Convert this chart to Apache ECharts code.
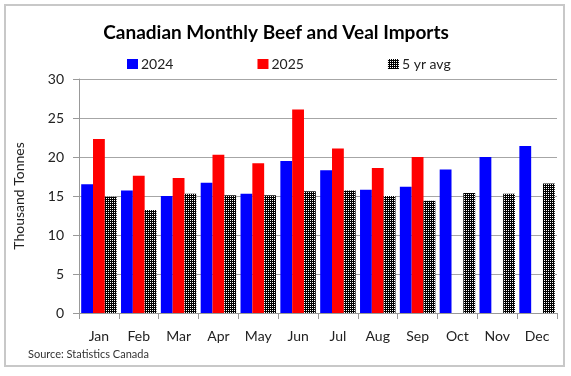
<!DOCTYPE html>
<html>
<head>
<meta charset="utf-8">
<script src="https://cdn.jsdelivr.net/npm/echarts@6/dist/echarts.min.js"></script>
<style>
html,body{margin:0;padding:0;background:#fff;}
#chart{width:571px;height:376px;}
</style>
</head>
<body>
<div id="chart"></div>
<script>
var months = ['Jan','Feb','Mar','Apr','May','Jun','Jul','Aug','Sep','Oct','Nov','Dec'];
var y2024 = [16.5, 15.7, 15.0, 16.7, 15.3, 19.5, 18.3, 15.8, 16.2, 18.4, 20.0, 21.4];
var y2025 = [22.3, 17.6, 17.3, 20.3, 19.2, 26.1, 21.1, 18.6, 20.0, null, null, null];
var avg5 = [14.9, 13.2, 15.3, 15.1, 15.1, 15.6, 15.7, 15.0, 14.4, 15.4, 15.3, 16.6];
var yTicks = [0, 5, 10, 15, 20, 25, 30];

var pc = document.createElement('canvas');
pc.width = 2; pc.height = 2;
var ctx = pc.getContext('2d');
ctx.fillStyle = '#000'; ctx.fillRect(0,0,2,2);
ctx.fillStyle = '#fff'; ctx.fillRect(0,0,1,1);
var pattern = {image: pc, repeat: 'repeat'};

var font = 'Lato, "Open Sans", sans-serif';
var chart = echarts.init(document.getElementById('chart'));
chart.setOption({
  animation: false,
  textStyle: {fontFamily: font},
  title: {
    text: 'Canadian Monthly Beef and Veal Imports',
    left: 271, textAlign: 'center', top: 18,
    textStyle: {fontSize: 19, fontWeight: 'bold', color: '#000', fontFamily: font}
  },
  graphic: [
    {type: 'rect', shape: {x: 5, y: 5, width: 559, height: 361},
     style: {fill: 'none', stroke: '#c8c8c8', lineWidth: 2}},
    {type: 'text', left: 28, top: 349,
     style: {text: 'Source: Statistics Canada', fontSize: 11, fill: '#333', fontFamily: font}}
  ],
  legend: {
    left: 122, top: 52, itemWidth: 11, itemHeight: 10, itemGap: 84,
    icon: 'rect',
    textStyle: {fontSize: 14, color: '#222', fontFamily: font, padding: [0,0,0,-2]},
    data: ['2024', '2025', '5 yr avg']
  },
  grid: {left: 79, right: 14, top: 79, bottom: 63},
  xAxis: {
    type: 'category', data: months,
    axisLine: {lineStyle: {color: '#999'}},
    axisTick: {show: true, length: 6, lineStyle: {color: '#999'}},
    axisLabel: {fontSize: 14, color: '#222', margin: 16, fontFamily: font}
  },
  yAxis: {
    type: 'value', min: yTicks[0], max: yTicks[yTicks.length-1], interval: 5,
    name: 'Thousand Tonnes', nameLocation: 'middle', nameGap: 53,
    nameTextStyle: {fontSize: 14, color: '#222', fontFamily: font},
    axisLine: {show: true, lineStyle: {color: '#999'}},
    axisTick: {show: true, length: 6, lineStyle: {color: '#999'}},
    axisLabel: {fontSize: 14, color: '#222', margin: 15, fontFamily: font},
    splitLine: {lineStyle: {color: '#a6a6a6', width: 1}}
  },
  series: [
    {name: '2024', type: 'bar', data: y2024, barGap: '0%', barCategoryGap: '11%',
     itemStyle: {color: '#0000ff'}},
    {name: '2025', type: 'bar', data: y2025, barGap: '0%', barCategoryGap: '11%',
     itemStyle: {color: '#ff0000'}},
    {name: '5 yr avg', type: 'bar', data: avg5, barGap: '0%', barCategoryGap: '11%',
     itemStyle: {color: pattern}}
  ]
});
</script>
</body>
</html>
